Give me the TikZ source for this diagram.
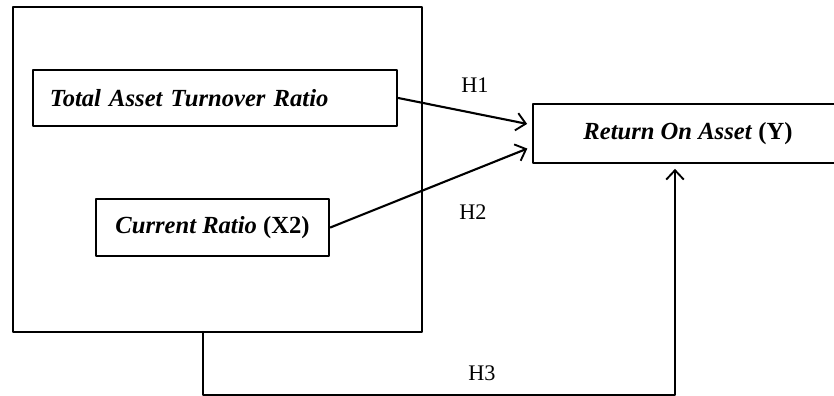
\documentclass[tikz,border=0pt]{standalone}
\usepackage{fontspec}
\setmainfont{Liberation Serif}
\usetikzlibrary{arrows.meta}

\begin{document}
\begin{tikzpicture}[x=0.03cm,y=0.03cm,line cap=round,line join=round,
  >={Straight Barb[length=8pt,width=15pt,line width=1.6pt]},
  varbox/.style={draw,line width=2.2pt,inner sep=0pt,font=\fontsize{21}{25}\selectfont\bfseries\itshape},
  hyp/.style={font=\fontsize{19}{22}\selectfont},
  link/.style={->,line width=1.8pt}]
\useasboundingbox (0,0) rectangle (834,-396);
\clip (0,0) rectangle (834,-396);
% independent variables
\node[draw,line width=2.2pt,minimum width=12.27cm,minimum height=9.75cm] (frame) at (217.5,-169.5) {};
\node[varbox,inner xsep=0.51cm,text width=9.9cm,align=left,minimum height=1.68cm] (tatr) at (215,-98) {Total Asset Turnover Ratio};
\node[varbox,minimum width=6.99cm,minimum height=1.71cm] (cr) at (212.5,-227.5) {Current Ratio \textup{(X2)}};
% dependent variable
\node[varbox,minimum width=9.3cm,minimum height=1.77cm] (roa) at (688,-133.5) {Return On Asset \textup{(Y)}};
\coordinate (h3start) at (203,-332);
\coordinate (h3low) at (203,-395);
\coordinate (h3end) at (675,-163);
\draw[link,shorten >=4pt] (tatr.east) -- ([yshift=0.26cm]roa.west);
\draw[link,shorten >=4pt] (cr.east) -- ([yshift=-0.4cm]roa.west);
\draw[link,shorten >=5pt] (h3start) -- (h3low) -| (h3end);
\node[hyp] (h1) at (475,-85) {H1};
\node[hyp] (h2) at (473,-212) {H2};
\node[hyp] (h3) at (482,-373) {H3};
\end{tikzpicture}
\end{document}
